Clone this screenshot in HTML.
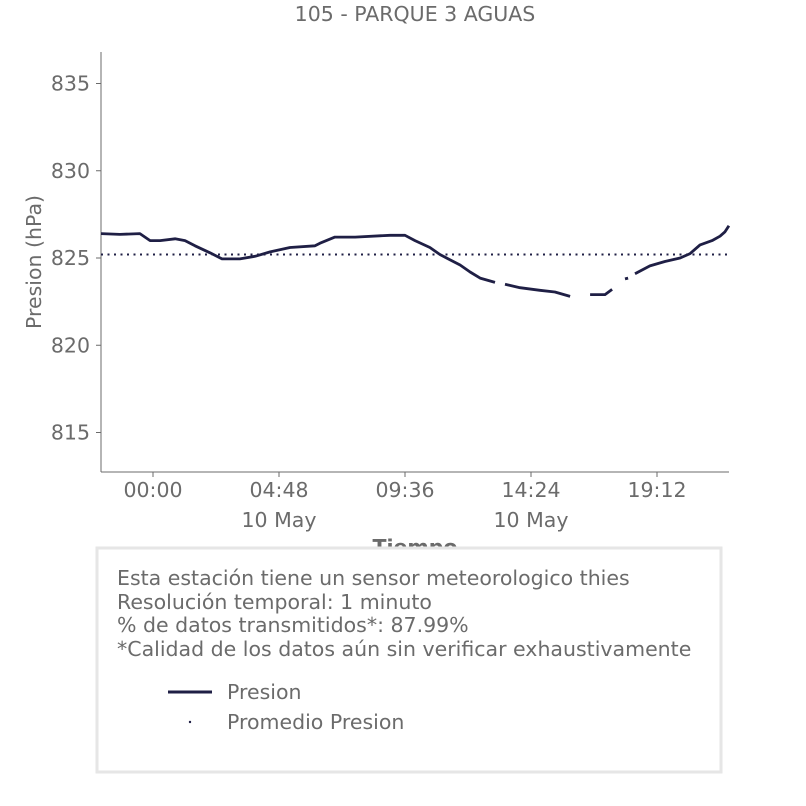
<!DOCTYPE html>
<html><head><meta charset="utf-8"><style>
body{margin:0;background:#fff;}
svg{display:block;font-family:"DejaVu Sans","Liberation Sans",sans-serif;}
</style></head><body>
<svg id="chart" width="806" height="806" viewBox="0 0 806 806">
<text x="415" y="21" text-anchor="middle" font-size="20.5" fill="#6b6b6b">105 - PARQUE 3 AGUAS</text>
<g id="axes"></g>
<g id="series"></g>
<text transform="translate(41,262) rotate(-90)" text-anchor="middle" font-size="20.5" fill="#6b6b6b">Presion (hPa)</text>
<text x="415" y="554" text-anchor="middle" font-size="20.5" font-weight="bold" fill="#6b6b6b">Tiempo</text>
<rect x="97" y="548" width="624" height="224" fill="#fff" stroke="#e6e6e6" stroke-width="3"/>
<g font-size="20.5" fill="#6b6b6b">
<text x="117" y="585">Esta estación tiene un sensor meteorologico thies</text>
<text x="117" y="609">Resolución temporal: 1 minuto</text>
<text x="117" y="632">% de datos transmitidos*: 87.99%</text>
<text x="117" y="656">*Calidad de los datos aún sin verificar exhaustivamente</text>
</g>
<line x1="168" y1="692" x2="212" y2="692" stroke="#1f1f45" stroke-width="3"/>
<text x="227" y="699" font-size="20.5" fill="#6b6b6b">Presion</text>
<circle cx="190" cy="722" r="1.2" fill="#1f1f45"/>
<text x="227" y="729" font-size="20.5" fill="#6b6b6b">Promedio Presion</text>
</svg>
<script>
const hours=[-1.98,-1.26,-0.50,-0.11,0.27,0.84,1.22,1.60,2.17,2.63,3.31,3.89,4.46,5.22,6.17,6.36,6.93,7.70,9.03,9.60,9.98,10.55,10.93,11.31,11.70,12.08,12.46,13.03,null,13.41,13.98,14.74,15.31,15.89,null,16.65,17.22,17.49,null,17.98,18.10,null,18.36,18.93,19.50,20.08,20.46,20.84,21.30,21.60,21.79,21.94];
const pressure=[826.4,826.35,826.4,826.0,826.0,826.1,826.0,825.7,825.3,824.95,824.95,825.1,825.35,825.6,825.7,825.85,826.2,826.2,826.3,826.3,826.0,825.6,825.2,824.9,824.6,824.2,823.85,823.6,null,823.5,823.3,823.15,823.05,822.8,null,822.9,822.9,823.2,null,823.8,823.85,null,824.1,824.55,824.8,825.0,825.25,825.75,826.0,826.25,826.5,826.85];
const meanPressure=[825.2];
const yTicks=[815,820,825,830,835];
const xTickHours=[0,4.8,9.6,14.4,19.2];
const xTickLabels=["00:00","04:48","09:36","14:24","19:12"];
const xTickDates=["","10 May","","10 May",""];
const X0=101,X1=729,Y0=52,Y1=472;
const xs=h=>153+(h-0)*26.25;
const ys=p=>258-(p-825)*17.45;
const NS="http://www.w3.org/2000/svg";
const ax=document.getElementById('axes'),se=document.getElementById('series');
function mk(tag,attrs,parent){const e=document.createElementNS(NS,tag);for(const k in attrs)e.setAttribute(k,attrs[k]);parent.appendChild(e);return e;}
let l=mk('line',{x1:X0,y1:Y0,x2:X0,y2:Y1,stroke:'#6b6b6b','stroke-width':1},ax);


l=mk('line',{x1:X0,y1:Y1,x2:X1,y2:Y1,stroke:'#6b6b6b','stroke-width':1},ax);


yTicks.forEach(v=>{const y=ys(v);
 const t=mk('line',{x1:X0-5,y1:y,x2:X0,y2:y,stroke:'#6b6b6b'},ax);
 
 
 const tx=mk('text',{x:X0-11,y:y+7,'text-anchor':'end','font-size':20.5,fill:'#6b6b6b'},ax);tx.textContent=v;
 
 });
xTickHours.forEach((h,i)=>{const x=xs(h);
 const t=mk('line',{x1:x,y1:Y1,x2:x,y2:Y1+5,stroke:'#6b6b6b'},ax);
 
 
 const tx=mk('text',{x:x,y:497,'text-anchor':'middle','font-size':20.5,fill:'#6b6b6b'},ax);tx.textContent=xTickLabels[i];
 
 
 if(xTickDates[i]){const d=mk('text',{x:x,y:527,'text-anchor':'middle','font-size':20.5,fill:'#6b6b6b'},ax);d.textContent=xTickDates[i];
 
 }});
const my=ys(meanPressure[0]);
const ml=mk('line',{x1:X0,y1:my,x2:X1,y2:my,stroke:'#1f1f45','stroke-width':2,'stroke-dasharray':'2 4.5'},se);


let d='',pen=false;
hours.forEach((h,i)=>{const p=pressure[i];if(h===null||p===null){pen=false;return;}
 d+=(pen?'L':'M')+xs(h).toFixed(1)+' '+ys(p).toFixed(1)+' ';pen=true;});
const pl=mk('path',{d:d,fill:'none',stroke:'#1f1f45','stroke-width':2.8,'stroke-linejoin':'round'},se);


</script>
</body></html>
